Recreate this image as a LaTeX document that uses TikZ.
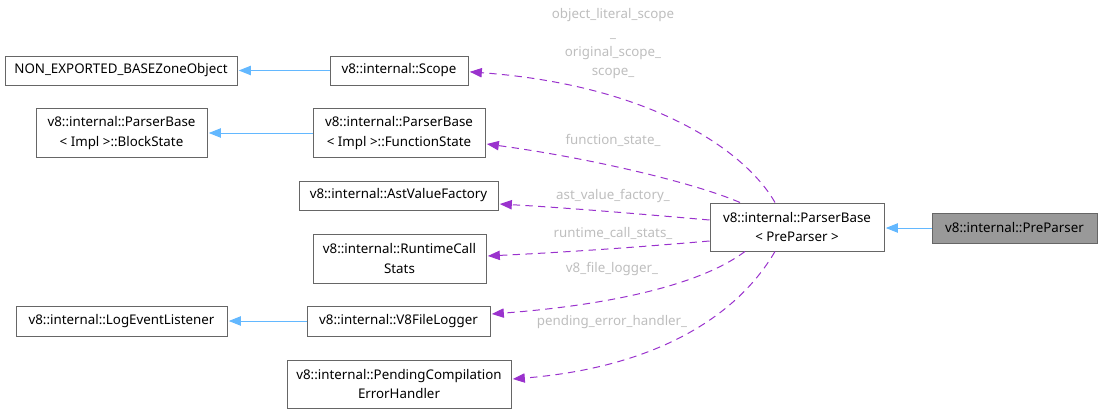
\documentclass[tikz,border=0pt]{standalone}
\usepackage{fontspec}
\setmainfont{Noto Sans}
\usetikzlibrary{arrows.meta}
\definecolor{boxgray}{HTML}{666666}
\definecolor{nodefill}{HTML}{999999}
\definecolor{deppurple}{HTML}{9A32CD}
\definecolor{inhblue}{HTML}{63B8FF}
\definecolor{lblgray}{HTML}{BEBEBE}
\tikzset{
  cls/.style={draw=boxgray, fill=white, line width=0.75pt, inner sep=0pt, align=center,
    font=\fontsize{10}{14.5}\selectfont},
  cur/.style={cls, fill=nodefill},
  inh/.style={draw=inhblue, line width=0.75pt, -{Triangle[length=9pt,width=7pt]}},
  dep/.style={draw=deppurple, line width=0.75pt, dash pattern=on 5.5pt off 4pt,
    -{Triangle[length=9pt,width=7pt]}},
  lbl/.style={text=lblgray, align=center, inner sep=0pt, font=\fontsize{10}{14.3}\selectfont}
}
\begin{document}
\begin{tikzpicture}[x=0.75pt, y=-0.75pt]
\useasboundingbox (0,0) rectangle (1101,414);
% nodes
\node[cls, minimum width=174pt, minimum height=21.75pt] (nexp) at (121,70.5) {NON\_EXPORTED\_BASEZoneObject};
\node[cls, minimum width=103.5pt, minimum height=21.75pt] (scope) at (399,70.5) {v8::internal::Scope};
\node[cls, minimum width=128.25pt, minimum height=36.75pt] (block) at (121.5,133) {v8::internal::ParserBase\\{}< Impl >::BlockState};
\node[cls, minimum width=129pt, minimum height=36.75pt] (func) at (399,133) {v8::internal::ParserBase\\{}< Impl >::FunctionState};
\node[cls, minimum width=149.25pt, minimum height=21.75pt] (ast) at (398.5,195.5) {v8::internal::AstValueFactory};
\node[cls, minimum width=129.75pt, minimum height=36.75pt] (rcs) at (399.5,258.5) {v8::internal::RuntimeCall\\Stats};
\node[cls, minimum width=158.25pt, minimum height=22.5pt] (lel) at (121.5,321) {v8::internal::LogEventListener};
\node[cls, minimum width=137.25pt, minimum height=22.5pt] (v8fl) at (398.5,321) {v8::internal::V8FileLogger};
\node[cls, minimum width=168pt, minimum height=36pt] (pceh) at (399,384) {v8::internal::PendingCompilation\\ErrorHandler};
\node[cls, minimum width=130.5pt, minimum height=36pt] (pb) at (797,227) {v8::internal::ParserBase\\{}< PreParser >};
\node[cur, minimum width=123.75pt, minimum height=22.5pt] (pp) at (1014.5,228) {v8::internal::PreParser};
% inheritance
\draw[inh] (scope) -- ([xshift=1pt]nexp.east);
\draw[inh] (func) -- ([xshift=1pt]block.east);
\draw[inh] (v8fl) -- ([xshift=1pt]lel.east);
\draw[inh] (pp.west) -- ([xshift=1pt]pp.west -| pb.east);
% dependencies
\draw[dep] ([xshift=-16.5pt]pb.north) .. controls (745,150) and (650,85) .. ([xshift=1pt,yshift=-1pt]scope.east);
\draw[dep] ([xshift=-42.75pt]pb.north) .. controls (695,183) and (590,158) .. ([xshift=1pt,yshift=-8.25pt]func.east);
\draw[dep] ([yshift=5.25pt]pb.west) .. controls (640,214) and (570,208) .. ([xshift=1pt,yshift=-6.4pt]ast.east);
\draw[dep] ([yshift=-10.5pt]pb.west) .. controls (640,247) and (570,252) .. ([xshift=1pt,yshift=1.9pt]rcs.east);
\draw[dep] ([xshift=-39pt]pb.south) .. controls (700,285) and (610,305) .. ([xshift=1pt,yshift=5.25pt]v8fl.east);
\draw[dep] ([xshift=-16.5pt]pb.south) .. controls (735,320) and (650,368) .. ([xshift=1pt,yshift=3.75pt]pceh.east);
% labels
\node[lbl] (l1) at (613,43.5) {object\_literal\_scope\\\_\\original\_scope\_\\scope\_};
\node[lbl] (l2) at (613,140) {function\_state\_};
\node[lbl] (l3) at (613,196) {ast\_value\_factory\_};
\node[lbl] (l4) at (613,233) {runtime\_call\_stats\_};
\node[lbl] (l5) at (612,269) {v8\_file\_logger\_};
\node[lbl] (l6) at (612,322) {pending\_error\_handler\_};
\end{tikzpicture}
\end{document}
